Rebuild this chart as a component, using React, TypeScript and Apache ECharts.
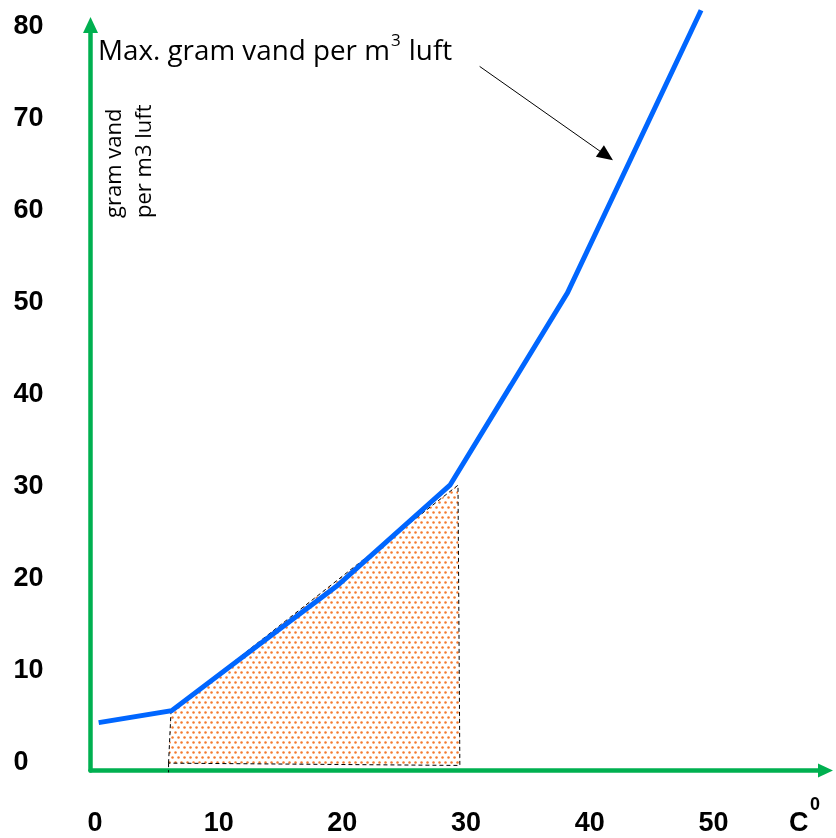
import React, { useEffect, useRef } from "react";
import * as echarts from "echarts";

// Temperature (°C) and maximum grams of water per m³ of air
const temperature = [0.3, 6.2, 19.6, 28.7, 38.2, 49.0];
const maxWater = [4.2, 5.5, 19.1, 30.0, 50.9, 81.6];

// Shaded (dotted) region: outline vertices
const areaX = [5.95, 6.15, 29.35, 29.5];
const areaY = [-0.2, 5.45, 30.0, -0.45];

const xTickValues = [0, 10, 20, 30, 40, 50, 56.9];
const yTickValues = [0, 10, 20, 30, 40, 50, 60, 70, 80];

// Annotation arrow (data coordinates)
const arrowFrom = [31.1, 75.5];
const arrowTo = [41.35, 65.8];

function makeDots(): HTMLCanvasElement {
  const c = document.createElement("canvas");
  c.width = 6;
  c.height = 10;
  const g = c.getContext("2d")!;
  g.fillStyle = "#F47A2E";
  g.beginPath();
  g.arc(1.5, 2.5, 1.25, 0, Math.PI * 2);
  g.fill();
  g.beginPath();
  g.arc(4.5, 7.5, 1.25, 0, Math.PI * 2);
  g.fill();
  return c;
}

export default function App() {
  const ref = useRef<HTMLDivElement>(null);
  useEffect(() => {
    if (!ref.current) return;
    const chart = echarts.init(ref.current, undefined, { renderer: "svg" });
    const dots = makeDots();
    const green = "#00B050";
    const textFont = "'Open Sans', 'Liberation Sans', sans-serif";
    const tickFont = "'Liberation Sans', Arial, sans-serif";
    chart.setOption({
      animation: false,
      grid: {
        left: 90.5,
        right: 10.5,
        top: 25,
        bottom: 67.5,
        containLabel: false,
        outerBoundsMode: "none",
      },
      xAxis: {
        type: "value",
        min: -0.36,
        max: 59.06,
        splitLine: { show: false },
        axisTick: { show: false },
        axisLine: {
          show: true,
          onZero: false,
          lineStyle: { color: green, width: 4.5 },
          symbol: ["none", "triangle"],
          symbolSize: [14, 15],
        },
        axisLabel: {
          customValues: xTickValues,
          margin: 51,
          verticalAlign: "middle",
          lineHeight: 22,
          fontFamily: tickFont,
          fontWeight: "bold",
          fontSize: 27,
          color: "#000",
          formatter: (v: number) => (v > 55 ? "C" : String(v)),
        },
      },
      yAxis: {
        type: "value",
        min: -1,
        max: 80,
        splitLine: { show: false },
        axisTick: { show: false },
        axisLine: {
          show: true,
          onZero: false,
          lineStyle: { color: green, width: 4.5 },
          symbol: ["none", "triangle"],
          symbolSize: [15, 16],
        },
        axisLabel: {
          customValues: yTickValues,
          align: "left",
          margin: 77,
          lineHeight: 24,
          fontFamily: tickFont,
          fontWeight: "bold",
          fontSize: 27,
          color: "#000",
        },
      },
      series: [
        {
          type: "custom",
          coordinateSystem: "cartesian2d",
          clip: false,
          silent: true,
          z: 1,
          data: [[areaX[0], areaY[0]]],
          renderItem: (params: any, api: any) => {
            const pts = areaX.map((x, i) => api.coord([x, areaY[i]]));
            const tail = api.coord([areaX[0], -1.2]);
            return {
              type: "group",
              children: [
                {
                  type: "polygon",
                  shape: { points: pts },
                  style: {
                    fill: { image: dots, repeat: "repeat" },
                    stroke: "#000",
                    lineWidth: 1,
                    lineDash: [4, 3],
                  },
                },
                {
                  type: "line",
                  shape: { x1: pts[0][0], y1: pts[0][1], x2: tail[0], y2: tail[1] },
                  style: { stroke: "#000", lineWidth: 1, lineDash: [4, 3] },
                },
              ],
            };
          },
        },
        {
          type: "line",
          z: 3,
          clip: false,
          silent: true,
          symbol: "none",
          data: temperature.map((t, i) => [t, maxWater[i]]),
          lineStyle: { color: "#0066FF", width: 5, cap: "butt", join: "miter" },
          markLine: {
            silent: true,
            symbol: ["none", "triangle"],
            symbolSize: [14, 16],
            label: { show: false },
            lineStyle: { color: "#000", width: 1, type: "solid" },
            emphasis: { disabled: true },
            data: [[{ coord: arrowFrom }, { coord: arrowTo }]],
          },
        },
      ],
      graphic: [
        {
          type: "text",
          x: 98,
          y: 49,
          silent: true,
          style: {
            text: "{a|Max. gram vand per m}{b|3}{a| luft}",
            verticalAlign: "middle",
            align: "left",
            fill: "#000",
            rich: {
              a: { fontSize: 27.8, fontFamily: textFont, lineHeight: 30, fill: "#000" },
              b: { fontSize: 17, fontFamily: textFont, lineHeight: 16, padding: [0, 1, 20, 1], fill: "#000" },
            },
          },
        },
        {
          type: "text",
          x: 815,
          y: 804,
          silent: true,
          style: {
            text: "0",
            align: "center",
            verticalAlign: "middle",
            fontSize: 18,
            fontWeight: "bold",
            fontFamily: tickFont,
            fill: "#000",
          },
        },
        {
          type: "text",
          x: 97,
          y: 218,
          rotation: Math.PI / 2,
          silent: true,
          style: {
            text: "gram vand\nper m3 luft",
            align: "left",
            verticalAlign: "top",
            fontSize: 22,
            lineHeight: 30,
            fontFamily: textFont,
            fill: "#000",
          },
        },
      ],
    });
    return () => chart.dispose();
  }, []);
  return (
    <div
      ref={ref}
      style={{ position: "fixed", left: 0, top: 0, width: 836, height: 838 }}
    />
  );
}
